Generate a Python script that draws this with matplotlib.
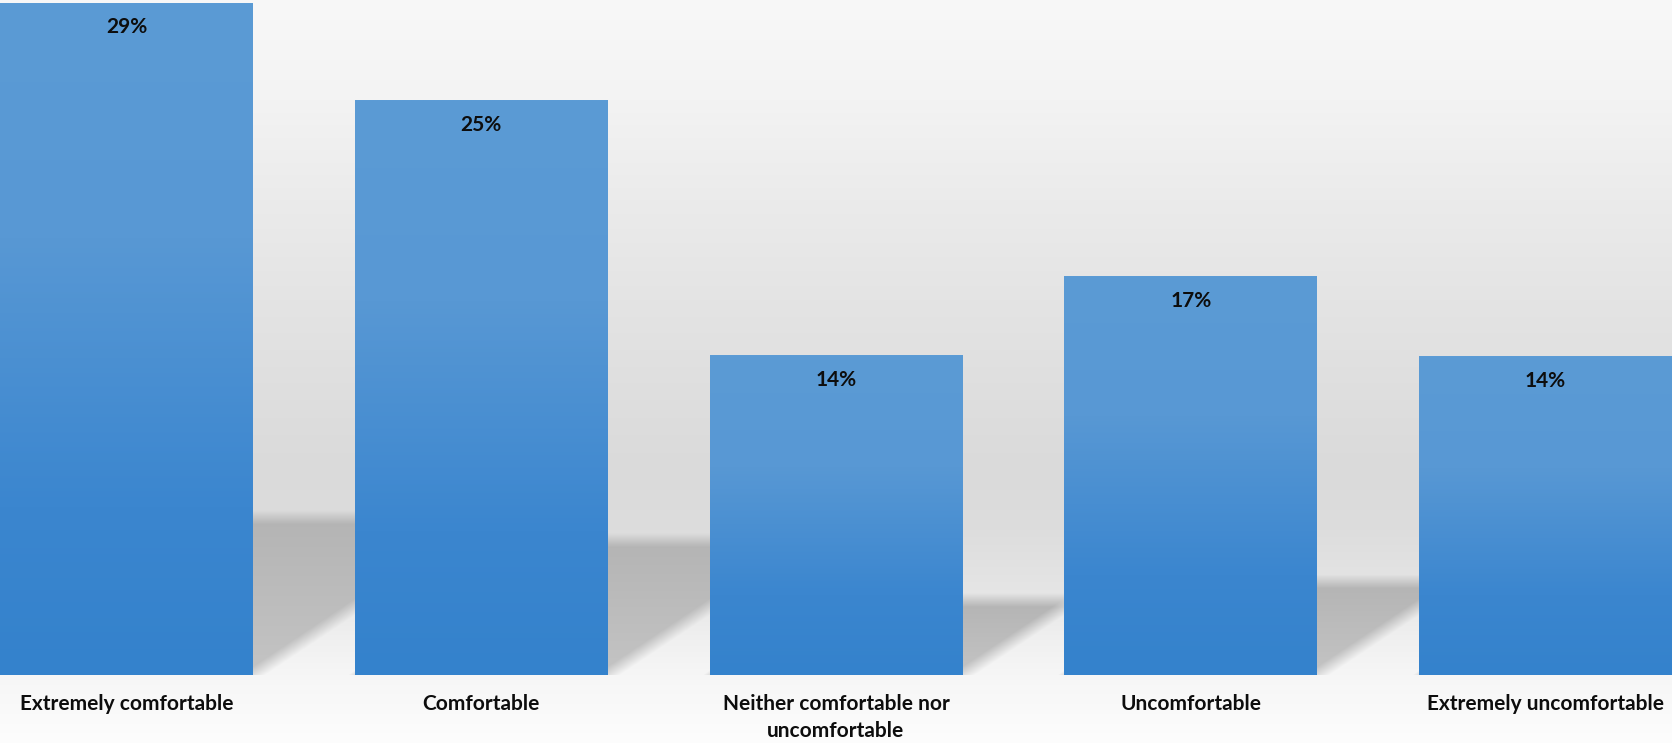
import numpy as np
import matplotlib.pyplot as plt
from matplotlib.colors import LinearSegmentedColormap

categories = ['Extremely comfortable', 'Comfortable', 'Neither comfortable nor\nuncomfortable',
              'Uncomfortable', 'Extremely uncomfortable']
values = [29.0, 24.8, 13.8, 17.2, 13.75]
labels = ['29%', '25%', '14%', '17%', '14%']

W, H = 1672, 743
plt.rcParams['font.family'] = ['Lato', 'DejaVu Sans']

fig = plt.figure(figsize=(W / 100, H / 100), dpi=100)
bg = fig.add_axes([0, 0, 1, 1], zorder=0)
ax = fig.add_axes([0, 68 / H, 1, 675 / H], zorder=1)
ax.patch.set_alpha(0)

width = 0.713
x = np.arange(len(values))
ax.set_xlim(-width / 2, len(values) - 1 + width / 2)
ax.set_ylim(0, 29.13)

# background: light at top, grey wall, light floor
stops_y = [0, 100, 200, 300, 400, 470, 530, 590, 640, 675, 743]
stops_v = [248, 243, 235, 228, 222, 218, 221, 229, 240, 246, 253]
rows = np.arange(H) + 0.5
col = np.interp(rows, stops_y, stops_v)
img = np.repeat(col[:, None], W, axis=1).astype(float)

# soft perspective shadows behind the bars
xx = np.arange(W) + 0.5
yy = H - rows
XX, YY = np.meshgrid(xx, yy)
k = 0.667
blur = 7.0


def ramp(d):
    return np.clip(d / (2 * blur) + 0.5, 0, 1)


for i, v in enumerate(values):
    xl, yb = ax.transData.transform((i - width / 2, 0))
    xr, yt = ax.transData.transform((i + width / 2, v))
    s = 0.235 * (yt - yb)
    u = YY - yb
    a = ramp(s - u)
    a = a * ramp((u - (XX - xr) * k) / np.sqrt(1 + k * k))
    a = a * ramp((XX - xl) - u / k)
    a = a * ramp((xr + s / k) - XX)
    a = a * (u >= 0)
    shade = 180 + 16 * np.clip(1 - u / s, 0, 1)
    img = img * (1 - a) + shade * a

img = np.clip(img / 255, 0, 1)
bg.imshow(np.dstack([img, img, img]), extent=(0, W, 0, H), aspect='auto', interpolation='bilinear')
bg.set_xlim(0, W)
bg.set_ylim(0, H)
bg.axis('off')

# bars with vertical gradient
bar_cmap = LinearSegmentedColormap.from_list('barfill', [
    (0.0, '#5b9bd5'), (0.35, '#5898d4'), (0.75, '#3b86cf'), (1.0, '#3482cc')])
bars = ax.bar(x, values, width=width, color='none', edgecolor='none')
grad = np.linspace(0, 1, 256)[:, None]
for b in bars:
    im = ax.imshow(grad, cmap=bar_cmap, aspect='auto',
                   extent=(b.get_x(), b.get_x() + b.get_width(), 0, b.get_height()),
                   origin='upper', zorder=2)
    im.set_clip_path(b)
ax.set_xlim(-width / 2, len(values) - 1 + width / 2)
ax.set_ylim(0, 29.13)

for b, lab in zip(bars, labels):
    ax.annotate(lab, (b.get_x() + b.get_width() / 2, b.get_height()),
                xytext=(0, -17.5), textcoords='offset points', ha='center', va='center',
                fontsize=15, fontweight='bold', color='#0d0d0d', zorder=3)

ax.set_xticks(x)
ax.set_xticklabels(categories, fontsize=15, fontweight='bold', color='#0d0d0d', linespacing=1.45)
ax.tick_params(axis='x', length=0, pad=13.5)
ax.set_yticks([])
for sp in ax.spines.values():
    sp.set_visible(False)

plt.savefig('out.png', dpi=100)
